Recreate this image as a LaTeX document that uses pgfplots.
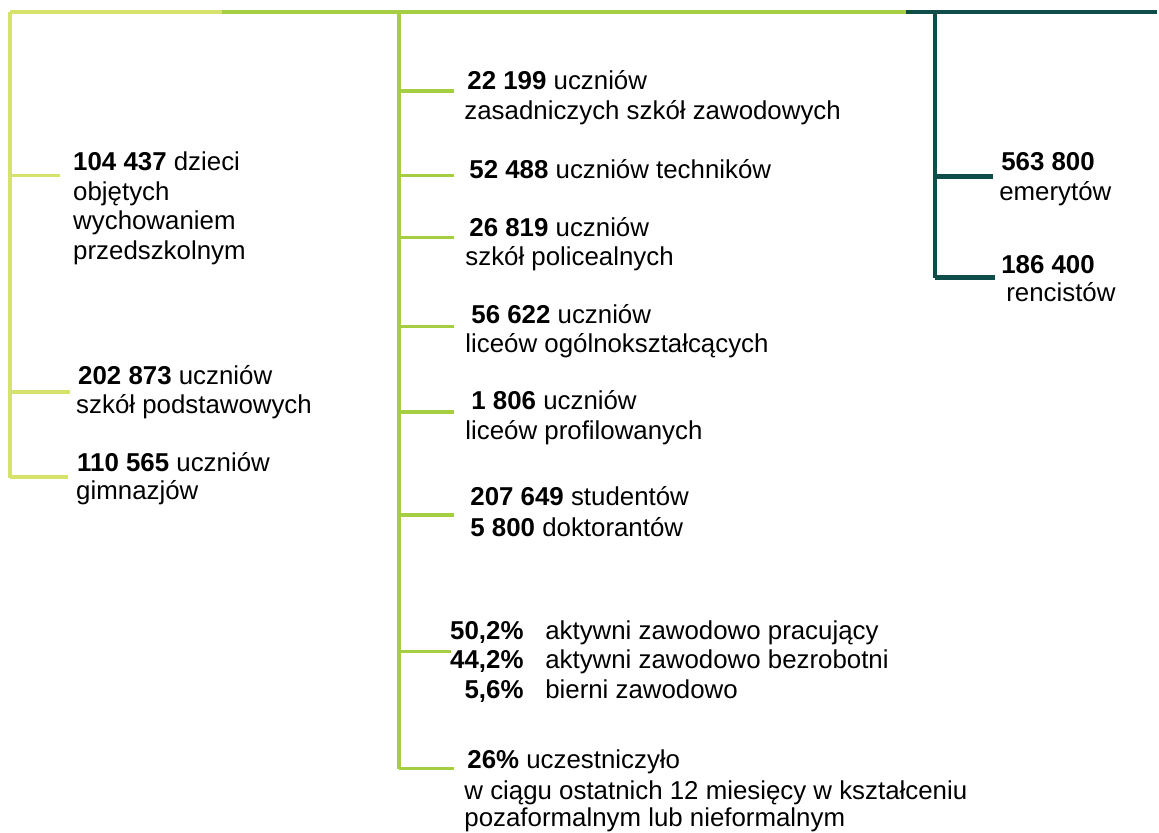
\documentclass[border=0pt]{standalone}
\usepackage{fontspec}
\setmainfont{Liberation Sans}
\usepackage{pgfplots}
\pgfplotsset{compat=1.18}

\definecolor{lgreen}{HTML}{D5E26B}
\definecolor{mgreen}{HTML}{A6CE42}
\definecolor{dteal}{HTML}{0F4D4B}

\begin{document}
\begin{tikzpicture}[
    lab/.style={anchor=base west, inner sep=0pt, text=black,
        font=\fontsize{12.95}{14.7}\selectfont},
    labr/.style={lab, anchor=base east},
]
\begin{axis}[
    scale only axis, width=579.5pt, height=417pt,
    xmin=0, xmax=1159, ymin=0, ymax=834, y dir=reverse,
    hide axis, clip=false,
]
    % frame for the bounding box
    \addplot[draw=none] coordinates {(0,0) (1159,834)};

    % top line
    \addplot[lgreen, line width=1.8pt] coordinates {(10,12) (222,12)};
    \addplot[mgreen, line width=1.8pt] coordinates {(222,12) (910,12)};
    \addplot[dteal,  line width=2.4pt] coordinates {(908,12) (1159,12)};

    % left branch
    \addplot[lgreen, line width=1.7pt] coordinates {(10,12) (10,478.8)};
    \addplot[lgreen, line width=1.7pt] coordinates {(10,176) (60,176)};
    \addplot[lgreen, line width=1.7pt] coordinates {(10,393) (70,393)};
    \addplot[lgreen, line width=1.7pt] coordinates {(10,478) (68,478)};

    % middle branch
    \addplot[mgreen, line width=1.7pt] coordinates {(400,12) (400,770.8)};
    \addplot[mgreen, line width=1.7pt] coordinates {(400,91) (455,91)};
    \addplot[mgreen, line width=1.7pt] coordinates {(400,176) (455,176)};
    \addplot[mgreen, line width=1.7pt] coordinates {(400,238) (455,238)};
    \addplot[mgreen, line width=1.7pt] coordinates {(400,327) (455,327)};
    \addplot[mgreen, line width=1.7pt] coordinates {(400,413) (455,413)};
    \addplot[mgreen, line width=1.7pt] coordinates {(400,516) (455,516)};
    \addplot[mgreen, line width=1.7pt] coordinates {(400,653) (452,653)};
    \addplot[mgreen, line width=1.7pt] coordinates {(400,770) (455,770)};

    % right branch
    \addplot[dteal, line width=2.4pt] coordinates {(937,12) (937,279)};
    \addplot[dteal, line width=2.4pt] coordinates {(937,177) (995,177)};
    \addplot[dteal, line width=2.4pt] coordinates {(937,278) (997,278)};

    % left texts
    \node[lab] at (axis cs:73,171) {\textbf{104 437} dzieci};
    \node[lab] at (axis cs:73,201) {objętych};
    \node[lab] at (axis cs:73,230) {wychowaniem};
    \node[lab] at (axis cs:73,260) {przedszkolnym};
    \node[lab] at (axis cs:78,385) {\textbf{202 873} uczniów};
    \node[lab] at (axis cs:76,414) {szkół podstawowych};
    \node[lab] at (axis cs:77,472) {\textbf{110 565} uczniów};
    \node[lab] at (axis cs:76,501) {gimnazjów};

    % middle texts
    \node[lab] at (axis cs:468,90) {\textbf{22 199} uczniów};
    \node[lab] at (axis cs:465,120) {zasadniczych szkół zawodowych};
    \node[lab] at (axis cs:470,179) {\textbf{52 488} uczniów techników};
    \node[lab] at (axis cs:470,237) {\textbf{26 819} uczniów};
    \node[lab] at (axis cs:466,266) {szkół policealnych};
    \node[lab] at (axis cs:472,324) {\textbf{56 622} uczniów};
    \node[lab] at (axis cs:466,353) {liceów ogólnokształcących};
    \node[lab] at (axis cs:472,410) {\textbf{1 806} uczniów};
    \node[lab] at (axis cs:466,440) {liceów profilowanych};
    \node[lab] at (axis cs:471,507) {\textbf{207 649} studentów};
    \node[lab] at (axis cs:471,538) {\textbf{5 800} doktorantów};
    \node[labr] at (axis cs:525,641) {\textbf{50,2\%}};
    \node[labr] at (axis cs:525,670) {\textbf{44,2\%}};
    \node[labr] at (axis cs:525,700) {\textbf{5,6\%}};
    \node[lab] at (axis cs:546,641) {aktywni zawodowo pracujący};
    \node[lab] at (axis cs:546,670) {aktywni zawodowo bezrobotni};
    \node[lab] at (axis cs:546,700) {bierni zawodowo};
    \node[lab] at (axis cs:468,770) {\textbf{26\%} uczestniczyło};
    \node[lab] at (axis cs:465,801) {w ciągu ostatnich 12 miesięcy w kształceniu};
    \node[lab] at (axis cs:465,828) {pozaformalnym lub nieformalnym};

    % right texts
    \node[lab] at (axis cs:1003,171) {\textbf{563 800}};
    \node[lab] at (axis cs:1001,201) {emerytów};
    \node[lab] at (axis cs:1003,274) {\textbf{186 400}};
    \node[lab] at (axis cs:1008,302) {rencistów};
\end{axis}
\end{tikzpicture}
\end{document}
